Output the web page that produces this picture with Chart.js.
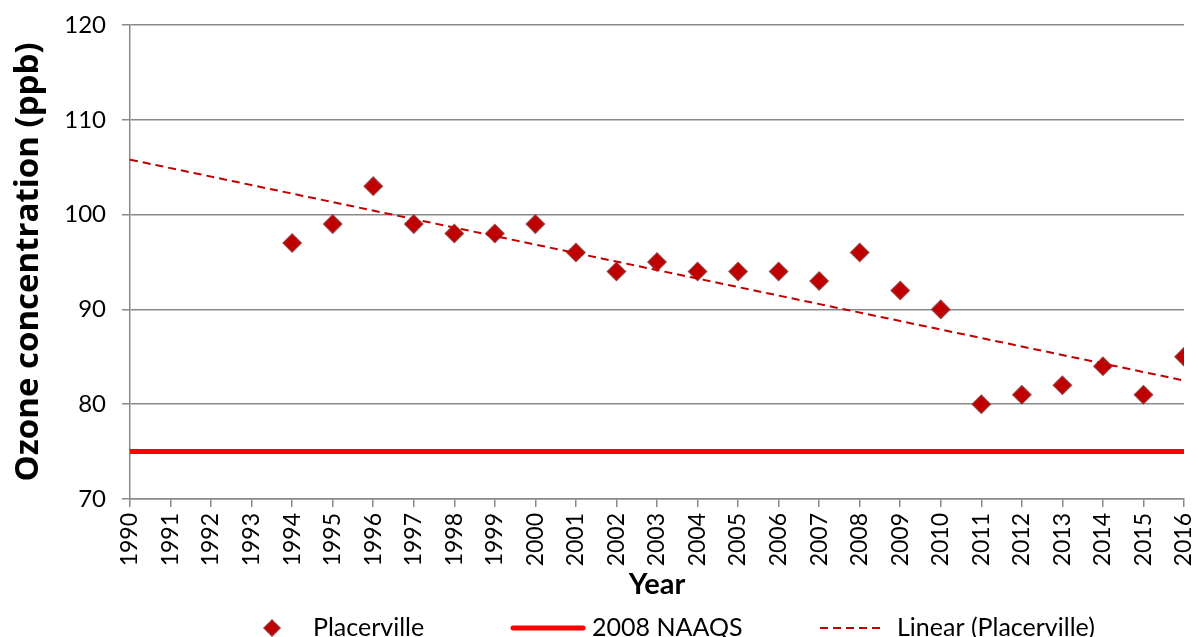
<!DOCTYPE html>
<html>
<head>
<meta charset="utf-8">
<script src="https://cdn.jsdelivr.net/npm/chart.js@4"></script>
<style>
  html, body { margin: 0; padding: 0; background: #fff; }
  #wrap { width: 1198px; height: 637px; position: relative; }
</style>
</head>
<body>
<div id="wrap"><canvas id="ozone-chart"></canvas></div>
<script>
// ── Data ──
const years = [1994, 1995, 1996, 1997, 1998, 1999, 2000, 2001, 2002, 2003, 2004, 2005,
               2006, 2007, 2008, 2009, 2010, 2011, 2012, 2013, 2014, 2015, 2016];
const placerville = [97, 99, 103, 99, 98, 98, 99, 96, 94, 95, 94, 94,
                     94, 93, 96, 92, 90, 80, 81, 82, 84, 81, 85];
const naaqsYears = [1990, 2016];
const naaqsValues = [75, 75];
const trendYears = [1990, 2016];
const trendValues = [105.8, 82.5];
const yTicks = [70, 80, 90, 100, 110, 120];

const toPoints = (xs, ys) => xs.map((x, i) => ({ x: x, y: ys[i] }));

// ── Legend drawn under the axes, Excel style ──
const bottomLegend = {
  id: 'bottomLegend',
  afterDraw(chart) {
    const ctx = chart.ctx;
    const y = 628;
    const items = [
      { sx: 272, tx: 313, ds: chart.data.datasets[0] },
      { sx: 548, tx: 592, ds: chart.data.datasets[1] },
      { sx: 851, tx: 897, ds: chart.data.datasets[2] }
    ];
    ctx.save();
    items.forEach(it => {
      const ds = it.ds;
      if (ds.showLine) {
        const half = ds.borderDash ? 31 : 35;
        ctx.beginPath();
        ctx.setLineDash(ds.borderDash || []);
        ctx.lineCap = ds.borderDash ? 'butt' : 'round';
        ctx.strokeStyle = ds.borderColor;
        ctx.lineWidth = ds.borderWidth;
        ctx.moveTo(it.sx - half, y);
        ctx.lineTo(it.sx + half, y);
        ctx.stroke();
        ctx.setLineDash([]);
      } else {
        // small diamond marker
        ctx.fillStyle = ds.pointBackgroundColor;
        ctx.strokeStyle = ds.pointBorderColor;
        ctx.lineWidth = ds.pointBorderWidth;
        ctx.beginPath();
        ctx.moveTo(it.sx - 8, y);
        ctx.lineTo(it.sx, y - 8);
        ctx.lineTo(it.sx + 8, y);
        ctx.lineTo(it.sx, y + 8);
        ctx.closePath();
        ctx.fill();
        ctx.stroke();
      }
      ctx.fillStyle = '#000';
      ctx.font = '25px Lato';
      ctx.textAlign = 'left';
      ctx.textBaseline = 'middle';
      ctx.fillText(ds.label, it.tx, y);
    });
    ctx.restore();
  }
};

Chart.defaults.font.family = "Lato, 'Open Sans', sans-serif";
Chart.defaults.color = '#000';

new Chart(document.getElementById('ozone-chart'), {
  type: 'scatter',
  data: {
    datasets: [
      {
        label: 'Placerville',
        data: toPoints(years, placerville),
        showLine: false,
        pointStyle: 'rectRot',
        pointRadius: 9,
        pointHoverRadius: 9,
        pointBackgroundColor: '#C00000',
        pointBorderColor: 'rgba(150, 40, 40, 0.85)',
        pointBorderWidth: 1.5,
        order: 2
      },
      {
        label: '2008 NAAQS',
        data: toPoints(naaqsYears, naaqsValues),
        showLine: true,
        borderColor: '#FF0000',
        borderWidth: 5,
        pointRadius: 0,
        order: 1
      },
      {
        label: 'Linear (Placerville)',
        data: toPoints(trendYears, trendValues),
        showLine: true,
        borderColor: '#C00000',
        borderWidth: 2,
        borderDash: [8, 5],
        pointRadius: 0,
        order: 0
      }
    ]
  },
  options: {
    responsive: true,
    maintainAspectRatio: false,
    animation: false,
    layout: { padding: { top: 25, right: 14, bottom: 38, left: 0 } },
    plugins: {
      legend: { display: false },
      tooltip: { enabled: false }
    },
    scales: {
      x: {
        type: 'linear',
        min: 1990,
        max: 2016,
        afterFit: s => {
          s.height = 100;
          s.paddingLeft = 0;
          s.paddingRight = 0;
        },
        afterBuildTicks: s => {
          s.ticks = [];
          for (let yr = 1990; yr <= 2016; yr++) s.ticks.push({ value: yr });
        },
        ticks: {
          autoSkip: false,
          minRotation: 90,
          maxRotation: 90,
          padding: 6,
          font: { size: 23 },
          callback: v => String(v)
        },
        grid: {
          drawOnChartArea: false,
          drawTicks: true,
          tickLength: 8,
          color: '#898989',
          lineWidth: 1.5
        },
        border: { color: '#898989', width: 1.5 },
        title: {
          display: true,
          text: 'Year',
          font: { size: 29, weight: 'bold', lineHeight: 1 },
          padding: { top: 0, bottom: 0 }
        }
      },
      y: {
        min: 70,
        max: 120,
        afterFit: s => {
          s.width = 130;
          s.paddingTop = 0;
          s.paddingBottom = 0;
        },
        afterBuildTicks: s => { s.ticks = yTicks.map(v => ({ value: v })); },
        ticks: {
          padding: 16,
          font: { size: 24 }
        },
        grid: {
          color: '#898989',
          lineWidth: 1.5,
          tickLength: 8
        },
        border: { color: '#898989', width: 1.5 },
        title: {
          display: true,
          text: 'Ozone concentration (ppb)',
          font: { family: "'Open Sans', Lato, sans-serif", size: 33, weight: 'bold', lineHeight: 1 },
          padding: { top: 12, bottom: 0 }
        }
      }
    }
  },
  plugins: [bottomLegend]
});
</script>
</body>
</html>
